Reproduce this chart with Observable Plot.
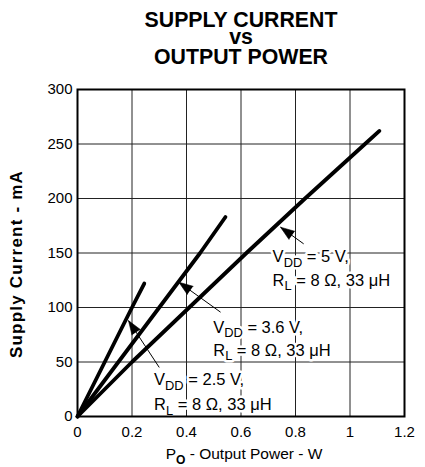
<!DOCTYPE html>
<html>
<head>
<meta charset="utf-8">
<script src="https://cdn.jsdelivr.net/npm/d3@7"></script>
<script src="https://cdn.jsdelivr.net/npm/@observablehq/plot@0.6"></script>
<style>
  html, body { margin: 0; padding: 0; background: #fff; }
  #chart { width: 425px; height: 467px; }
</style>
</head>
<body>
<div id="chart"></div>
<script>
// ---- data ----
const titleLines = ["SUPPLY CURRENT", "vs", "OUTPUT POWER"];
const xLabel = "P_b{O} - Output Power - W";
const yLabel = "Supply Current - mA";
const xTicks = [0, 0.2, 0.4, 0.6, 0.8, 1, 1.2];
const yTicks = [0, 50, 100, 150, 200, 250, 300];

// V_DD = 2.5 V
const p25 = [0, 0.10, 0.20, 0.245];
const i25 = [0, 50, 100, 122];
// V_DD = 3.6 V
const p36 = [0, 0.15, 0.30, 0.45, 0.543];
const i36 = [0, 50, 100, 150, 183];
// V_DD = 5 V
const p50 = [0, 0.20, 0.41, 0.62, 0.835, 1.055, 1.108];
const i50 = [0, 50, 100, 150, 200, 250, 262];

// annotations (two text lines each)
const labelLine1 = ["V_{DD} = 5 V,", "V_{DD} = 3.6 V,", "V_{DD} = 2.5 V,"];
const labelLine2 = ["R_{L} = 8 Ω, 33 μH", "R_{L} = 8 Ω, 33 μH", "R_{L} = 8 Ω, 33 μH"];
const labelX = [0.716, 0.498, 0.281];
const labelY1 = [146.4, 81.7, 33.3];
const labelY2 = [125.0, 60.8, 10.4];
const arrowTailX = [0.830, 0.525, 0.300];
const arrowTailY = [158.4, 95.7, 45];
const arrowTipX = [0.745, 0.372, 0.187];
const arrowTipY = [173.7, 123.2, 88];

// ---- build ----
const W = 425, H = 467, ML = 77, MR = 21, MT = 89, MB = 51;
const kx = (W - ML - MR) / 1.2, ky = (H - MT - MB) / 300;

const curves = [];
[[p25, i25, "2.5"], [p36, i36, "3.6"], [p50, i50, "5"]].forEach(([p, i, s]) =>
  p.forEach((v, k) => curves.push({p: v, i: i[k], s})));

const labels = [];
labelX.forEach((x, k) => {
  labels.push({t: labelLine1[k], x, y: labelY1[k]});
  labels.push({t: labelLine2[k], x, y: labelY2[k]});
});
const arrows = arrowTipX.map((x, k) => {
  const dx = (x - arrowTailX[k]) * kx;
  const dy = -(arrowTipY[k] - arrowTailY[k]) * ky;
  return {x1: arrowTailX[k], y1: arrowTailY[k], x2: x, y2: arrowTipY[k],
          angle: Math.atan2(dx, -dy) * 180 / Math.PI};
});

const FONT = "'Liberation Sans', Arial, Helvetica, sans-serif";
const titleDy = [-69.2, -52.6, -32.6];

const marks = [
  Plot.ruleX(xTicks, {stroke: "#222", strokeWidth: 1}),
  Plot.ruleY(yTicks, {stroke: "#222", strokeWidth: 1}),
  Plot.line(curves, {x: "p", y: "i", z: "s", stroke: "black", strokeWidth: 3.8, strokeLinecap: "round"}),
  Plot.text(labels, {x: "x", y: "y", text: "t", textAnchor: "start", lineAnchor: "middle",
    fontSize: 16.5, fill: "black", stroke: "white", strokeWidth: 5}),
  Plot.link(arrows, {x1: "x1", y1: "y1", x2: "x2", y2: "y2", stroke: "black", strokeWidth: 1}),
  Plot.vector(arrows, {x: "x2", y: "y2", rotate: "angle", length: 14, anchor: "end",
    shape: "spike", r: 5, fill: "black", stroke: "black", strokeWidth: 0.5}),
  Plot.frame({stroke: "black", strokeWidth: 2}),
  ...titleLines.map((t, k) => Plot.text([t], {frameAnchor: "top", lineAnchor: "middle",
    textAnchor: "middle", dy: titleDy[k], fontSize: 21.3, fontWeight: "bold", fill: "black"})),
  Plot.text([xLabel], {frameAnchor: "bottom", lineAnchor: "middle", textAnchor: "middle",
    dy: 38, dx: 3, fontSize: 15.5, fill: "black"}),
  Plot.text([yLabel], {frameAnchor: "left", lineAnchor: "middle", textAnchor: "middle",
    rotate: -90, dx: -61, dy: 11, fontSize: 17, fontWeight: "bold", fill: "black"})
];

const chart = Plot.plot({
  width: W, height: H,
  marginLeft: ML, marginRight: MR, marginTop: MT, marginBottom: MB,
  style: {fontFamily: FONT, fontSize: "15px", color: "black", background: "white"},
  x: {domain: [0, 1.2], ticks: xTicks, tickSize: 0, tickPadding: 10, label: null,
      tickFormat: d => String(+d.toFixed(1))},
  y: {domain: [0, 300], ticks: yTicks, tickSize: 0, tickPadding: 5, label: null},
  marks
});

// subscripts: "_{..}" (normal) or "_b{..}" (bold)
function addSubscripts(svg) {
  const walker = document.createTreeWalker(svg, NodeFilter.SHOW_TEXT);
  const nodes = [];
  while (walker.nextNode()) nodes.push(walker.currentNode);
  const NS = "http://www.w3.org/2000/svg";
  for (const node of nodes) {
    const s = node.nodeValue;
    if (!/_b?\{/.test(s)) continue;
    const frag = document.createDocumentFragment();
    const re = /_(b?)\{([^}]*)\}/g;
    let last = 0, m, restore = false;
    const plain = (txt) => {
      if (!txt) return;
      const t = document.createElementNS(NS, "tspan");
      if (restore) t.setAttribute("dy", "-0.26em");
      t.textContent = txt;
      frag.appendChild(t);
      restore = false;
    };
    while ((m = re.exec(s))) {
      plain(s.slice(last, m.index));
      const sub = document.createElementNS(NS, "tspan");
      sub.setAttribute("font-size", "0.78em");
      sub.setAttribute("dy", "0.333em");
      if (m[1]) sub.setAttribute("font-weight", "bold");
      sub.textContent = m[2];
      frag.appendChild(sub);
      restore = true;
      last = re.lastIndex;
    }
    plain(s.slice(last));
    node.parentNode.replaceChild(frag, node);
  }
}
addSubscripts(chart);
chart.querySelectorAll("text").forEach(t => {
  if (t.textContent === yLabel) t.style.letterSpacing = "1.2px";
});
document.getElementById("chart").appendChild(chart);
</script>
</body>
</html>
